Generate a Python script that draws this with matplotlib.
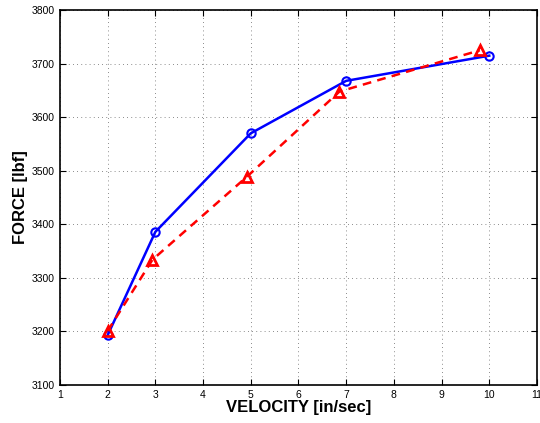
import matplotlib
matplotlib.use("Agg")
import matplotlib.pyplot as plt

# data
vel_blue = [2, 3, 5, 7, 10]
force_blue = [3193, 3386, 3570, 3668, 3715]
vel_red = [2, 2.94, 4.92, 6.86, 9.8]
force_red = [3201, 3334, 3489, 3648, 3725]
xticks = list(range(1, 12))
yticks = list(range(3100, 3801, 100))

plt.rcParams['font.family'] = ['Liberation Sans', 'DejaVu Sans']

fig = plt.figure(figsize=(5.4, 4.23), dpi=100)
ax = fig.add_axes([0.111, 0.0898, 0.8834, 0.8862])

ax.plot(vel_blue, force_blue, color='blue', linestyle='-', linewidth=1.8,
        marker='o', markersize=6, markerfacecolor='none', markeredgecolor='blue',
        markeredgewidth=1.5)
ax.plot(vel_red, force_red, color='red', linestyle='--', linewidth=1.8,
        dashes=(3.5, 2.5), marker='^', markersize=6.5, markerfacecolor='none',
        markeredgecolor='red', markeredgewidth=2)

ax.set_xlim(1, 11)
ax.set_ylim(3100, 3800)
ax.set_xticks(xticks)
ax.set_yticks(yticks)
ax.tick_params(direction='in', top=True, right=True, labelsize=7.5, length=4, width=0.8)
ax.grid(True, linestyle=(0, (1, 4)), color='#666666', linewidth=0.6)
for s in ax.spines.values():
    s.set_linewidth(1.2)

ax.set_xlabel('VELOCITY [in/sec]', fontsize=12, fontweight='bold', labelpad=0)
ax.set_ylabel('FORCE [lbf]', fontsize=12, fontweight='bold', labelpad=3)

fig.savefig('out.png', dpi=100, facecolor='white')
